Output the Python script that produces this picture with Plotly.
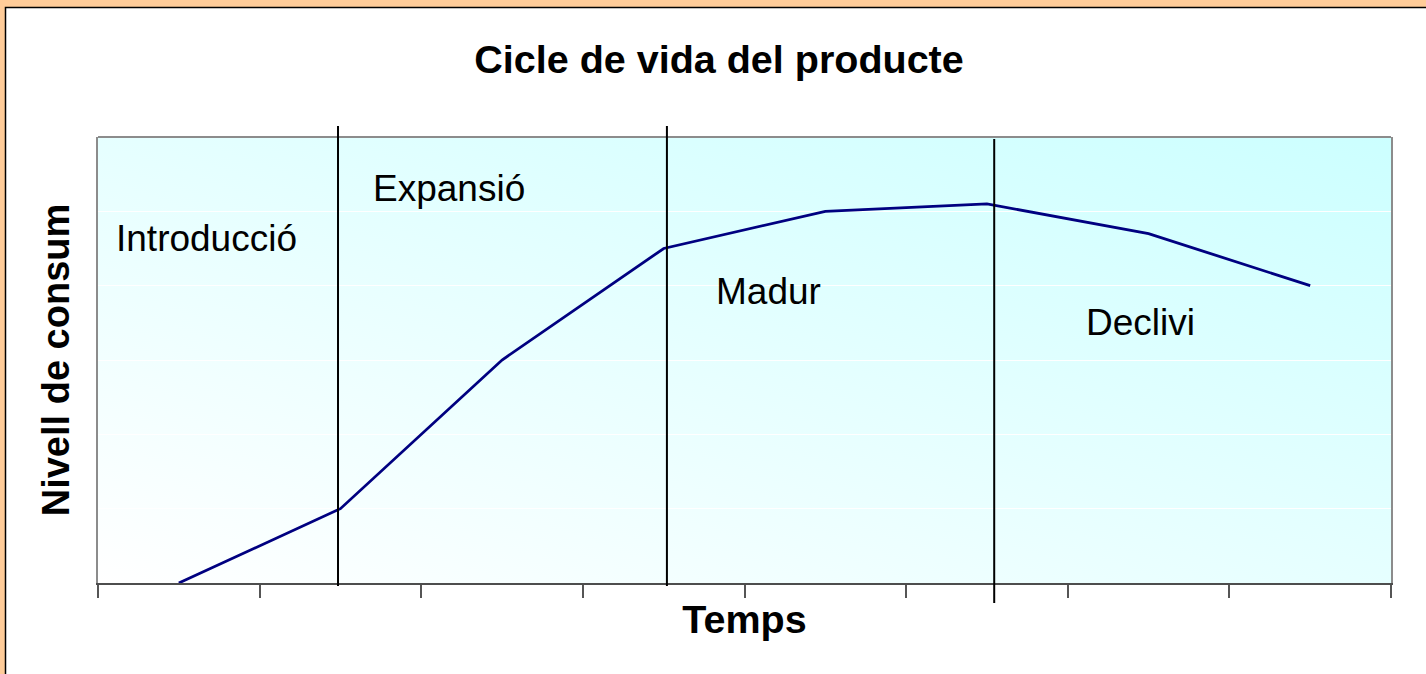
import base64
import plotly.graph_objects as go

# cicle de vida: 8 periodes, nivell de consum llegit del grafic
periodes = [1, 2, 3, 4, 5, 6, 7, 8]
consum = [0, 10, 30, 45, 50, 51, 47, 40]

# etiquetes de fase i posicio (x en periodes, y en nivell)
fases = ["Introducció", "Expansió", "Madur", "Declivi"]
fases_x = [0.597, 2.19, 4.311, 6.601]
fases_y = [46.3, 53.1, 39.2, 35.0]

# linies verticals que separen les fases
separadors = [1.985, 4.02, 6.045]

# plot area in pixels, used to turn pixel positions into paper coords
W, H = 1426, 674
L, R, T, B = 98, 35, 137, 91
pw, ph = W - L - R, H - T - B


def px_x(p):
    return (p - L) / pw


def px_y(p):
    return (H - B - p) / ph


# diagonal gradient of the plot area (white bottom-left -> light cyan top-right)
svg = ('<svg xmlns="http://www.w3.org/2000/svg" width="100" height="100" '
       'viewBox="0 0 100 100" preserveAspectRatio="none"><defs>'
       '<linearGradient id="g" x1="0" y1="1" x2="1" y2="0">'
       '<stop offset="0" stop-color="#FFFFFF"/><stop offset="1" stop-color="#CCFFFF"/>'
       '</linearGradient></defs><rect width="100" height="100" fill="url(#g)"/></svg>')
grad_src = "data:image/svg+xml;base64," + base64.b64encode(svg.encode()).decode()

fig = go.Figure()
fig.add_trace(go.Scatter(x=periodes, y=consum, mode="lines",
                         line=dict(color="#000080", width=2.8),
                         cliponaxis=False, showlegend=False, hoverinfo="skip"))

shapes = []
# white card with black border on the orange page
shapes.append(dict(type="rect", xref="paper", yref="paper",
                   x0=px_x(5.5), x1=px_x(1440), y0=px_y(690), y1=px_y(7.5),
                   fillcolor="white", line=dict(color="black", width=1.5), layer="below"))
# top border of plot area
shapes.append(dict(type="line", xref="paper", yref="paper", x0=0, x1=1, y0=1, y1=1,
                   line=dict(color="#8c8c8c", width=2)))
tops = [126, 126, 139]
bottoms = [586, 586, 603]
for sx, t, b in zip(separadors, tops, bottoms):
    shapes.append(dict(type="line", xref="x", yref="paper", x0=sx, x1=sx,
                       y0=px_y(b), y1=px_y(t), line=dict(color="black", width=2)))

annotations = []
for txt, ax_, ay_ in zip(fases, fases_x, fases_y):
    annotations.append(dict(x=ax_, y=ay_, xref="x", yref="y", text=txt, showarrow=False,
                            xanchor="left", yanchor="middle",
                            font=dict(family="Liberation Sans, Arial", size=37, color="black")))

fig.update_layout(
    width=W, height=H,
    margin=dict(l=L, r=R, t=T, b=B),
    paper_bgcolor="#FFCC99",
    plot_bgcolor="white",
    font=dict(family="Liberation Sans, Arial", color="black"),
    title=dict(text="<b>Cicle de vida del producte</b>", x=719 / W, xanchor="center",
               y=1 - 58.7 / H, yanchor="middle", yref="container",
               font=dict(size=39.5, color="black")),
    shapes=shapes,
    annotations=annotations,
    images=[dict(source=grad_src, xref="x domain", yref="y domain", x=0, y=1,
                 sizex=1, sizey=1, sizing="stretch", xanchor="left", yanchor="top",
                 layer="below")],
    xaxis=dict(range=[0.5, 8.5], tickmode="linear", tick0=0.5, dtick=1,
               showticklabels=False, ticks="outside", ticklen=13, tickwidth=1.5,
               tickcolor="#555555", showgrid=False, zeroline=False,
               showline=True, linecolor="#4d4d4d", linewidth=2,
               title=dict(text="<b>Temps</b>", font=dict(size=39.5), standoff=8)),
    yaxis=dict(range=[0, 60], dtick=10, showticklabels=False, ticks="",
               showgrid=True, gridcolor="white", gridwidth=1, zeroline=False,
               showline=True, linecolor="#8c8c8c", linewidth=2, mirror=True,
               title=dict(text="<b>Nivell de consum</b>", font=dict(size=38), standoff=15)),
)

# the page's default body margin would shift the figure by 8px
fig.write_html("out.html", config={"displayModeBar": False},
               post_script="document.body.style.margin='0';")
